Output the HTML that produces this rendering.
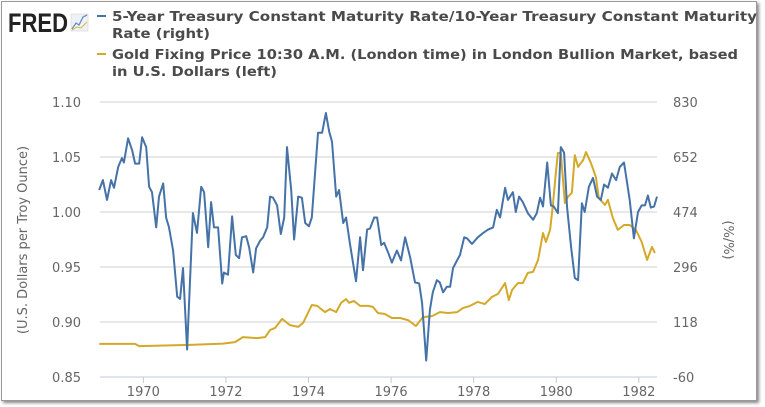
<!DOCTYPE html>
<html><head><meta charset="utf-8"><style>
body{margin:0;background:#fff;width:765px;height:407px;overflow:hidden;font-family:"DejaVu Sans","Liberation Sans",sans-serif}
#frame{position:absolute;left:1px;top:1px;width:754px;height:398px;border:1px solid #999;box-shadow:2px 2px 3px #888;background:#fff}
</style></head><body>
<div id="frame"></div>
<svg id="chart" width="765" height="407" style="position:absolute;left:0;top:0">
<text x="8" y="32" font-family="Liberation Sans" font-size="27" font-weight="bold" fill="#222" textLength="60" lengthAdjust="spacingAndGlyphs">FRED</text>
<g><rect x="71" y="14" width="17" height="17" fill="#eef2f6" stroke="#ccc" stroke-width="0.5"/><polyline points="72,29 76,23 79,25 83,17 87,15" fill="none" stroke="#6a8fc2" stroke-width="1.3"/><polyline points="72,30 77,27 81,28 87,22" fill="none" stroke="#d9b84a" stroke-width="1"/></g>
<g font-size="13" font-weight="bold" fill="#4a4a4a">
<line x1="97" y1="16" x2="106" y2="16" stroke="#4572a7" stroke-width="2"/>
<text x="112" y="21" textLength="645" lengthAdjust="spacingAndGlyphs">5-Year Treasury Constant Maturity Rate/10-Year Treasury Constant Maturity</text>
<text x="112" y="38" textLength="98" lengthAdjust="spacingAndGlyphs">Rate (right)</text>
<line x1="97" y1="54" x2="106" y2="54" stroke="#d4a92a" stroke-width="2"/>
<text x="112" y="59" textLength="626" lengthAdjust="spacingAndGlyphs">Gold Fixing Price 10:30 A.M. (London time) in London Bullion Market, based</text>
<text x="112" y="76" textLength="165" lengthAdjust="spacingAndGlyphs">in U.S. Dollars (left)</text>
</g>
<text transform="translate(27,240) rotate(-90)" text-anchor="middle" font-size="13" fill="#666">(U.S. Dollars per Troy Ounce)</text>
<text transform="translate(724,240) rotate(90)" text-anchor="middle" font-size="13" fill="#666">(%/%)</text>
<g id="grid"></g><g id="series"></g>
</svg>
<script>
const leftTicks=[1.10,1.05,1.00,0.95,0.90,0.85];
const leftTickLabels=["1.10","1.05","1.00","0.95","0.90","0.85"];
const rightTickLabels=["830","652","474","296","118","-60"];
const xTickYears=[1970,1972,1974,1976,1978,1980,1982];
const ratioDates=[1968.93,1969.02,1969.12,1969.22,1969.29,1969.39,1969.48,1969.53,1969.63,1969.73,1969.80,1969.90,1969.97,1970.07,1970.14,1970.21,1970.31,1970.38,1970.48,1970.55,1970.62,1970.72,1970.82,1970.89,1970.96,1971.06,1971.20,1971.30,1971.40,1971.47,1971.57,1971.64,1971.71,1971.81,1971.91,1971.95,1972.05,1972.15,1972.24,1972.32,1972.39,1972.49,1972.56,1972.66,1972.73,1972.83,1972.90,1973.00,1973.07,1973.14,1973.24,1973.33,1973.41,1973.48,1973.58,1973.65,1973.75,1973.84,1973.92,1974.01,1974.08,1974.23,1974.33,1974.42,1974.50,1974.57,1974.67,1974.74,1974.84,1974.91,1975.00,1975.15,1975.25,1975.32,1975.42,1975.49,1975.59,1975.66,1975.76,1975.83,1975.93,1976.02,1976.14,1976.24,1976.34,1976.46,1976.58,1976.68,1976.75,1976.85,1976.94,1977.01,1977.11,1977.18,1977.26,1977.35,1977.43,1977.50,1977.67,1977.77,1977.84,1977.96,1978.10,1978.23,1978.35,1978.47,1978.56,1978.64,1978.76,1978.83,1978.95,1979.02,1979.10,1979.19,1979.31,1979.44,1979.53,1979.61,1979.68,1979.78,1979.87,1979.94,1980.04,1980.11,1980.19,1980.26,1980.36,1980.45,1980.53,1980.62,1980.69,1980.79,1980.89,1980.99,1981.08,1981.16,1981.25,1981.35,1981.45,1981.54,1981.64,1981.78,1981.88,1981.98,1982.07,1982.15,1982.22,1982.29,1982.37,1982.44];
const ratioValues=[1.020,1.029,1.011,1.029,1.022,1.041,1.049,1.045,1.067,1.056,1.044,1.044,1.068,1.059,1.023,1.018,0.986,1.014,1.026,0.995,0.986,0.965,0.923,0.921,0.949,0.875,0.999,0.981,1.023,1.018,0.968,1.009,0.986,0.986,0.935,0.945,0.943,0.996,0.961,0.958,0.977,0.978,0.968,0.945,0.967,0.974,0.977,0.986,1.014,1.013,1.006,0.980,0.995,1.059,1.020,0.975,1.014,1.013,0.990,0.987,0.995,1.072,1.072,1.090,1.073,1.064,1.014,1.020,0.990,0.995,0.972,0.937,0.977,0.947,0.984,0.985,0.995,0.995,0.970,0.972,0.963,0.954,0.965,0.956,0.977,0.959,0.936,0.935,0.917,0.865,0.911,0.927,0.938,0.936,0.927,0.932,0.932,0.949,0.961,0.977,0.976,0.971,0.977,0.981,0.984,0.986,1.002,0.995,1.022,1.011,1.018,1.000,1.014,1.009,0.999,0.993,0.999,1.013,1.005,1.045,1.006,1.005,0.999,1.059,1.054,1.005,0.968,0.940,0.938,1.008,1.000,1.023,1.031,1.014,1.011,1.025,1.022,1.035,1.029,1.041,1.045,1.011,0.976,1.000,1.006,1.006,1.015,1.004,1.005,1.014];
const goldDates=[1968.93,1969.80,1969.90,1971.13,1971.93,1972.22,1972.41,1972.75,1972.95,1973.07,1973.19,1973.36,1973.55,1973.75,1973.87,1974.08,1974.21,1974.40,1974.52,1974.67,1974.79,1974.91,1974.98,1975.10,1975.25,1975.44,1975.56,1975.68,1975.85,1976.02,1976.22,1976.41,1976.60,1976.77,1976.99,1977.18,1977.38,1977.60,1977.74,1977.91,1978.10,1978.27,1978.44,1978.59,1978.76,1978.85,1978.93,1979.07,1979.19,1979.31,1979.44,1979.56,1979.68,1979.75,1979.85,1979.92,1979.99,1980.04,1980.11,1980.21,1980.28,1980.38,1980.45,1980.53,1980.65,1980.72,1980.84,1980.96,1981.03,1981.18,1981.25,1981.37,1981.49,1981.64,1981.78,1981.93,1982.07,1982.20,1982.32,1982.39];
const goldValues=[47,47,40,44,48,53,69,66,69,92,99,128,108,102,115,173,170,150,160,150,180,192,180,186,170,170,167,147,144,131,131,124,105,134,137,150,147,150,163,170,183,176,199,209,244,189,222,244,244,277,280,319,406,377,416,497,600,665,665,503,523,536,658,620,642,668,633,587,519,497,513,455,416,432,432,416,377,319,361,341];
const X0=100,X1=657,Y0=102,Y1=377;
const yearMin=1968.95,yearMax=1982.44;
const xScale=t=>X0+(t-yearMin)/(yearMax-yearMin)*(X1-X0);
const yLeft=v=>Y0+(1.10-v)/(1.10-0.85)*(Y1-Y0);
const yRight=v=>Y0+(830-v)/(830-(-60))*(Y1-Y0);
const NS="http://www.w3.org/2000/svg";
const grid=document.getElementById('grid'),series=document.getElementById('series');
function mk(tag,attrs,parent){const e=document.createElementNS(NS,tag);for(const k in attrs)e.setAttribute(k,attrs[k]);parent.appendChild(e);return e;}
leftTicks.forEach((v,i)=>{
  const y=yLeft(v);
  const g=mk('line',{x1:X0,x2:X1,y1:y,y2:y,stroke:i===leftTicks.length-1?'#c0c8d8':'#d0d0d0','stroke-width':1},grid);
  
  
  const t=mk('text',{x:81,y:y+5,'text-anchor':'end','font-size':13,fill:'#666'},grid);t.textContent=leftTickLabels[i];
  
  
  const r=mk('text',{x:673,y:y+5,'font-size':13,fill:'#666'},grid);r.textContent=rightTickLabels[i];
  
  
});
xTickYears.forEach(yr=>{
  const x=xScale(yr);
  const l=mk('line',{x1:x,x2:x,y1:Y1,y2:Y1+6,stroke:'#c0c8d8'},grid);
  
  
  const t=mk('text',{x:x,y:Y1+19,'text-anchor':'middle','font-size':13,fill:'#666'},grid);t.textContent=yr;
  
  
});
const gp=mk('polyline',{points:goldDates.map((d,i)=>xScale(d).toFixed(1)+','+yRight(goldValues[i]).toFixed(1)).join(' '),fill:'none',stroke:'#d4a92a','stroke-width':2,'stroke-linejoin':'round'},series);


const rp=mk('polyline',{points:ratioDates.map((d,i)=>xScale(d).toFixed(1)+','+yLeft(ratioValues[i]).toFixed(1)).join(' '),fill:'none',stroke:'#4572a7','stroke-width':2,'stroke-linejoin':'round'},series);


</script>
</body></html>
